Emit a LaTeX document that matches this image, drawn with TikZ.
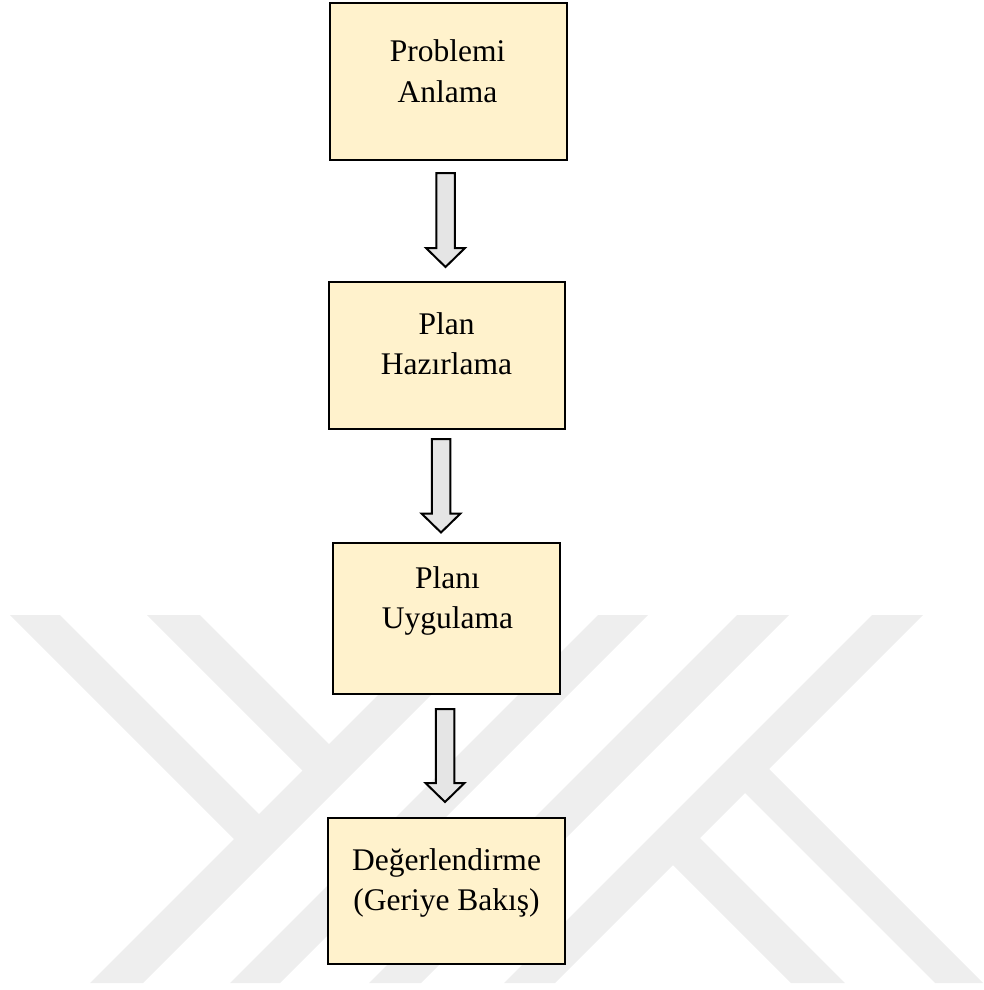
\documentclass[tikz,border=0pt]{standalone}
\usepackage{fontspec}
\setmainfont{Liberation Serif}
\usetikzlibrary{calc}

\definecolor{boxfill}{RGB}{255,242,204}
\definecolor{arrowfill}{RGB}{229,229,229}
\definecolor{markgray}{RGB}{238,238,238}

\tikzset{
  stepbox/.style={draw=black, line width=2.5pt, fill=boxfill, rectangle, inner sep=0pt, outer sep=0pt},
  lbl/.style={font=\fontsize{31.5}{40}\selectfont, align=center, inner sep=0pt},
  arrowbody/.style={draw=black, line width=2pt, fill=arrowfill, line join=miter},
  emblem/.style={fill=markgray, draw=none}
}

% hollow block arrow from a shaft top point down to a tip point
\newcommand{\blockarrow}[2]{%
  \draw[arrowbody] ($(#1)+(-9.25,0)$) -- ($(#1)+(9.25,0)$) -- ($(#2)+(9.25,-19)$)
    -- ($(#2)+(19.5,-19)$) -- (#2) -- ($(#2)+(-19.5,-19)$) -- ($(#2)+(-9.25,-19)$) -- cycle;}

\begin{document}
\begin{tikzpicture}[x=1pt, y=-1pt]
\useasboundingbox (0,0) rectangle (984,990);

% light background emblem made of diagonal stripes
\fill[emblem] (90,983) -- (143,983) -- (511,615) -- (458,615) -- cycle;
\fill[emblem] (10,615) -- (60,615) -- (272.5,827.5) -- (247.5,852.5) -- cycle;
\fill[emblem] (147,615) -- (200,615) -- (342.5,757.5) -- (316,784) -- cycle;
\fill[emblem] (230,983) -- (280,983) -- (648,615) -- (598,615) -- cycle;
\fill[emblem] (369,983) -- (421,983) -- (789,615) -- (737,615) -- cycle;
\fill[emblem] (504,983) -- (555,983) -- (923,615) -- (872,615) -- cycle;
\fill[emblem] (756,756) -- (983,983) -- (935,983) -- (732,780) -- cycle;
\fill[emblem] (687,825) -- (845,983) -- (791,983) -- (660,852) -- cycle;

% process boxes
\node[stepbox, minimum width=237pt, minimum height=157pt] (b1) at (448.5,81.5) {};
\node[stepbox, minimum width=236pt, minimum height=147pt] (b2) at (447,355.5) {};
\node[stepbox, minimum width=227pt, minimum height=151pt] (b3) at (446.5,618.5) {};
\node[stepbox, minimum width=237pt, minimum height=146pt] (b4) at (446.5,891) {};

% box labels (base = baseline of the second line)
\node[lbl, anchor=base] (t1) at ($(b1.north)+(-1,99)$) {Problemi\\Anlama};
\node[lbl, anchor=base] (t2) at ($(b2.north)+(-0.5,92)$) {Plan\\Hazırlama};
\node[lbl, anchor=base] (t3) at ($(b3.north)+(1,85)$) {Planı\\Uygulama};
\node[lbl, anchor=base] (t4) at ($(b4.north)+(0,92)$) {Değerlendirme\\(Geriye Bakış)};

% arrow end points
\coordinate (s1) at ($(b1.south)+(-3,13)$);
\coordinate (e1) at ($(b2.north)+(-1.5,-15)$);
\coordinate (s2) at ($(b2.south)+(-6,10)$);
\coordinate (e2) at ($(b3.north)+(-5.5,-10.5)$);
\coordinate (s3) at ($(b3.south)+(-1.5,15)$);
\coordinate (e3) at ($(b4.north)+(-1.5,-16)$);

\blockarrow{s1}{e1}
\blockarrow{s2}{e2}
\blockarrow{s3}{e3}
\end{tikzpicture}
\end{document}
